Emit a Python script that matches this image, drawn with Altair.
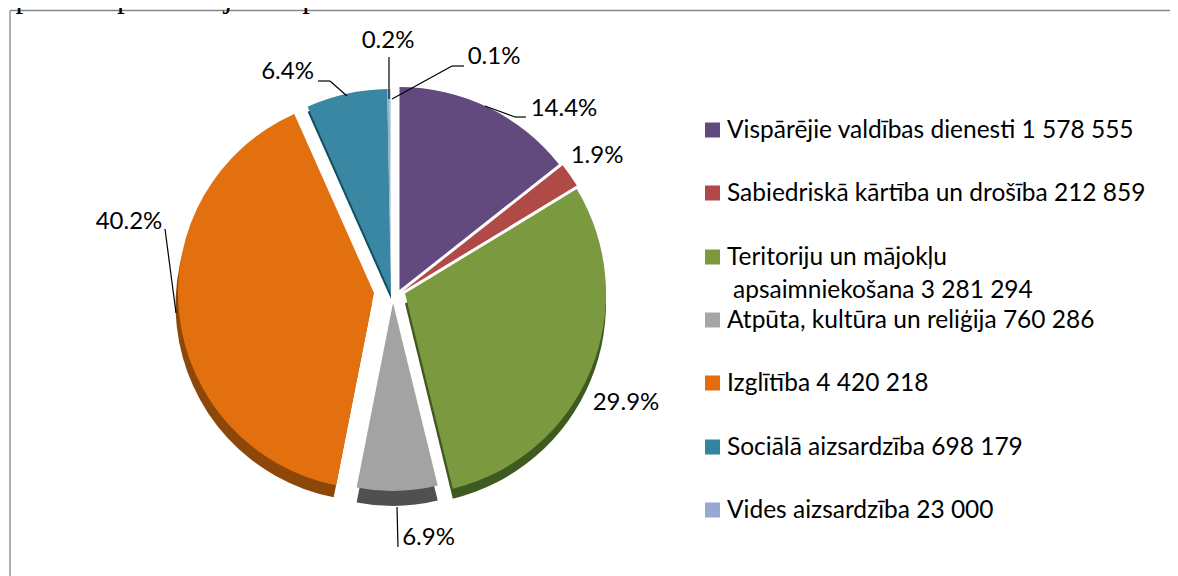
import math
import altair as alt
import pandas as pd

# chart values
categories = ["Vispārējie valdības dienesti", "Sabiedriskā kārtība un drošība",
              "Teritoriju un mājokļu apsaimniekošana", "Atpūta, kultūra un reliģija",
              "Izglītība", "Sociālā aizsardzība", "Vides aizsardzība", "(cits)"]
values = [1578555, 212859, 3281294, 760286, 4420218, 698179, 23000, 11000]
pct_labels = ["14.4%", "1.9%", "29.9%", "6.9%", "40.2%", "6.4%", "0.2%", "0.1%"]
legend_labels = ["Vispārējie valdības dienesti 1 578 555", "Sabiedriskā kārtība un drošība 212 859",
                 "Teritoriju un mājokļu", "apsaimniekošana 3 281 294",
                 "Atpūta, kultūra un reliģija 760 286", "Izglītība 4 420 218",
                 "Sociālā aizsardzība 698 179", "Vides aizsardzība 23 000"]

# styling (separate from the values)
fills = ["#634a7e", "#b04a47", "#7b9a40", "#a3a3a3", "#e2700e", "#3a87a3", "#8fb4d2", "#c5d8e8"]
sides = ["#3d2c50", "#702c2b", "#3f5a20", "#505050", "#8c4709", "#124f62", "#5f7f9f", "#8fa8c0"]
swatch_fills = ["#604a7b", "#b0484a", "#7a9a3c", "#a6a6a6", "#e46c0a", "#31859c", "#95a9d1"]
FONT = "Lato"
OFF = 8  # page margin

centre_x = [399.5, 402.5, 405, 393, 374, 391, 391, 391]
centre_y = [290, 291.5, 293.5, 303, 293, 294, 294, 294]
radii = [203, 204, 201, 188, 196, 205, 205, 205]
depth = [0, 0, 10, 15, 12, 5, 0, 0]
depth_dx = [0, 0, 0, 0, -2.4, 0, 0, 0]

cum = [sum(values[:i]) for i in range(len(values) + 1)]
total = cum[-1]
pie = pd.DataFrame({
    "name": categories, "value": values, "start": cum[:-1], "end": cum[1:],
    "fill": fills, "side": sides,
    "cx": [v - OFF for v in centre_x], "cy": [v - OFF for v in centre_y],
    "r": radii, "depth": depth, "ddx": depth_dx,
})
pie["cyd"] = pie["cy"] + pie["depth"]
pie["cxd"] = pie["cx"] + pie["ddx"]

theta_scale = alt.Scale(domain=[0, total], range=[0, 2 * math.pi])
X = lambda f: alt.X(f, scale=None, axis=None)
Y = lambda f: alt.Y(f, scale=None, axis=None)

side_layer = alt.Chart(pie[pie.depth > 0]).mark_arc().encode(
    theta=alt.Theta("start:Q", scale=theta_scale), theta2="end:Q",
    radius=alt.Radius("r:Q", scale=None), x=X("cxd:Q"), y=Y("cyd:Q"),
    fill=alt.Fill("side:N", scale=None),
)
face_layer = alt.Chart(pie).mark_arc().encode(
    theta=alt.Theta("start:Q", scale=theta_scale), theta2="end:Q",
    radius=alt.Radius("r:Q", scale=None), x=X("cx:Q"), y=Y("cy:Q"),
    fill=alt.Fill("fill:N", scale=None),
)

# percentage labels
lab_x = [564, 597, 626, 428.5, 129, 287.5, 388, 494]
lab_y = [109, 156, 403, 538, 222, 72, 41, 57]
labels = pd.DataFrame({"t": pct_labels, "x": [v - OFF for v in lab_x], "y": [v - OFF for v in lab_y]})
label_layer = alt.Chart(labels).mark_text(font=FONT, fontSize=24, color="#000000", baseline="middle").encode(
    x=X("x:Q"), y=Y("y:Q"), text="t:N")

# leader lines
leaders = [
    (389, 57, 389, 99),
    (464, 66, 452, 66), (452, 66, 392, 99),
    (318, 81, 330, 81), (330, 81, 347, 96),
    (526, 117, 515, 117), (515, 117, 485, 106),
    (165, 229, 176, 313),
    (397, 507, 398, 547),
]
lead = pd.DataFrame(leaders, columns=["x", "y", "x2", "y2"]) - OFF
leader_layer = alt.Chart(lead).mark_rule(color="#000000", strokeWidth=1.2).encode(
    x=X("x:Q"), y=Y("y:Q"), x2="x2:Q", y2="y2:Q")

# legend
sw_y = [130, 193, 257, 320, 383, 447, 510]
swatches = pd.DataFrame({"x": [712.5 - OFF] * 7, "y": [v - OFF for v in sw_y], "c": swatch_fills})
swatch_layer = alt.Chart(swatches).mark_square(size=225, opacity=1).encode(
    x=X("x:Q"), y=Y("y:Q"), fill=alt.Fill("c:N", scale=None))
txt_x = [727, 727, 727, 733, 727, 727, 727, 727]
txt_y = [131, 194, 258, 291, 321, 384, 448, 511]
legend_df = pd.DataFrame({"t": legend_labels, "x": [v - OFF for v in txt_x], "y": [v - OFF for v in txt_y]})
legend_layer = alt.Chart(legend_df).mark_text(font=FONT, fontSize=24.5, align="left", baseline="middle", color="#000000").encode(
    x=X("x:Q"), y=Y("y:Q"), text="t:N")

# frame
frame = pd.DataFrame({"x": [2, 2], "y": [2.5, 2.5], "x2": [1170, 2], "y2": [2.5, 568]})
frame_layer = alt.Chart(frame).mark_rule(color="#868686", strokeWidth=1.3).encode(
    x=X("x:Q"), y=Y("y:Q"), x2="x2:Q", y2="y2:Q")

# running text above the chart frame
head = pd.DataFrame({"t": ["opaina ir palielinājušies par 414 520"], "x": [0 - OFF], "y": [7 - OFF]})
head_layer = alt.Chart(head).mark_text(font="Liberation Serif", fontSize=31, align="left", baseline="alphabetic", color="#000000").encode(
    x=X("x:Q"), y=Y("y:Q"), text="t:N")
head2 = pd.DataFrame({"t": ["euro."], "x": [470 - OFF], "y": [7 - OFF]})
head2_layer = alt.Chart(head2).mark_text(font="Liberation Serif", fontSize=31, fontStyle="italic", align="left", baseline="alphabetic", color="#000000").encode(
    x=X("x:Q"), y=Y("y:Q"), text="t:N")

chart = alt.layer(
    frame_layer, head_layer, head2_layer, side_layer, face_layer, leader_layer, label_layer,
    swatch_layer, legend_layer).properties(
    width=1162, height=568, padding=0, autosize=alt.AutoSizeParams(type="none"),
).configure_view(stroke=None)

chart.save("out.html", embed_options={"renderer": "svg", "actions": False})
